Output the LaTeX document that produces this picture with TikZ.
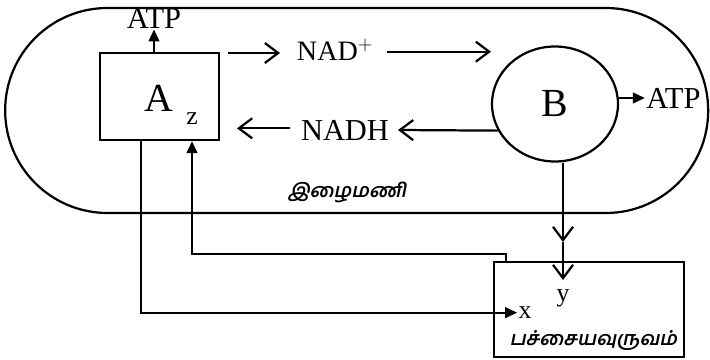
\documentclass[tikz,border=0pt]{standalone}
\usepackage{fontspec}
\setmainfont{Liberation Serif}
\newfontfamily\tamilfont[Script=Tamil, FakeSlant=0.2]{Hind Madurai}
\usepackage{tikz}
\usetikzlibrary{arrows.meta, positioning, calc, shapes.geometric}
\tikzset{
  cell/wall/.style   = {draw, line width=1.9pt, rounded corners=3.07cm, inner sep=0pt},
  cell/box/.style    = {draw, line width=1.9pt, inner sep=0pt},
  cell/big/.style    = {font=\fontsize{34}{36}\selectfont, inner sep=1pt},
  cell/label/.style  = {font=\fontsize{26}{28}\selectfont, inner sep=1pt},
  cell/small/.style  = {font=\fontsize{22}{24}\selectfont, inner sep=1pt},
  cell/tamil/.style  = {font=\fontsize{16.5}{18}\selectfont\tamilfont\bfseries, inner sep=1pt},
  cell/arrow/.style  = {-{Straight Barb[length=4mm,width=6mm]}, line width=1.9pt},
  cell/arrowf/.style = {-{Triangle[length=3.6mm,width=3.2mm]}, line width=1.9pt},
}
\begin{document}
\begin{tikzpicture}
      \useasboundingbox (0,0) rectangle (21.3,-10.8);
      \node[cell/wall, minimum width=21.09cm, minimum height=6.15cm] (cell) at (10.7,-3.315) {};
      \node[cell/box, minimum width=3.57cm, minimum height=2.61cm] (boxA) at (4.785,-2.895) {};
      \node[cell/box, ellipse, minimum width=3.78cm, minimum height=3.45cm] (circB) at (16.65,-3.12) {};
      \node[cell/box, minimum width=5.7cm, minimum height=2.85cm] (plastid) at (17.67,-9.285) {};
      % labels
      \node[cell/big] (labA) at (4.77,-2.94) {A};
      \node[cell/big] (labB) at (16.65,-3.12) {B};
      \node[cell/label] (atpA) at (4.62,-0.54) {ATP};
      \node[cell/label] (atpB) at (20.2,-2.94) {ATP};
      \node[cell/label, font=\fontsize{24}{26}\selectfont] (nad) at (10.05,-1.5) {NAD$^{+}$};
      \node[cell/label] (nadh) at (10.35,-3.9) {NADH};
      \node[cell/small] (z) at (5.76,-3.55) {z};
      \node[cell/small] (y) at (16.89,-8.95) {y};
      \node[cell/small] (x) at (15.75,-9.38) {x};
      \node[cell/tamil] (mito) at (10.41,-5.76) {இழைமணி};
      \node[cell/tamil] (plastname) at (17.8,-10.2) {பச்சையவுருவம்};
      % free arrow ends
      \coordinate (nadin) at (6.84,-1.59);
      \coordinate (nadmid) at (8.4,-1.59);
      \coordinate (nadgo) at (11.61,-1.55);
      \coordinate (nadout) at (14.73,-1.55);
      \coordinate (nadhin) at (11.94,-3.9);
      \coordinate (nadhgo) at (8.7,-3.85);
      \coordinate (nadhout) at (7.11,-3.85);
      \coordinate (ymid) at (16.89,-7.26);
      \coordinate (yend) at (16.89,-8.4);
      % arrows
      \draw[cell/arrowf] (atpA.south |- boxA.north) -- (atpA.south);
      \draw[cell/arrowf] (circB.east |- atpB) -- (atpB.west);
      \draw[cell/arrow] (nadin) -- (nadmid);
      \draw[cell/arrow] (nadgo) -- (nadout);
      \draw[cell/arrow] (circB.205) -- (nadhin);
      \draw[cell/arrow] (nadhgo) -- (nadhout);
      \draw[cell/arrow] (circB.south -| ymid) -- (ymid);
      \draw[cell/arrow] (ymid) -- (yend);
      \draw[cell/arrowf] ([xshift=0.39cm]plastid.north west) -- ++(0,0.21) -| (z |- boxA.south);
      \draw[cell/arrowf] ([xshift=1.26cm]boxA.south west) |- (x.west);
\end{tikzpicture}
\end{document}
